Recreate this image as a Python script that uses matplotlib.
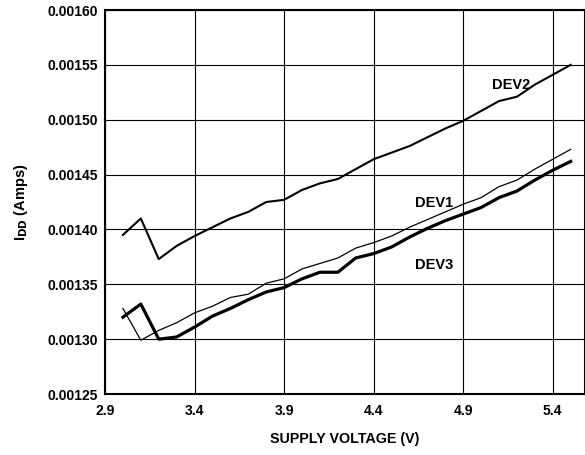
import matplotlib
matplotlib.use('Agg')
import matplotlib.pyplot as plt

plt.rcParams['font.family'] = ['Liberation Sans', 'DejaVu Sans']
plt.rcParams['font.weight'] = 'bold'

# supply voltage (V)
volts = [3.0, 3.1, 3.2, 3.3, 3.4, 3.5, 3.6, 3.7, 3.8, 3.9, 4.0, 4.1, 4.2,
         4.3, 4.4, 4.5, 4.6, 4.7, 4.8, 4.9, 5.0, 5.1, 5.2, 5.3, 5.4, 5.5]

# supply current (A) per device
dev1 = [0.001328, 0.001299, 0.001308, 0.001315, 0.001324, 0.001330, 0.001338,
        0.001341, 0.001351, 0.001355, 0.001364, 0.001369, 0.001374, 0.001383,
        0.001388, 0.001394, 0.001402, 0.001409, 0.001416, 0.001423, 0.001429,
        0.001439, 0.001445, 0.001455, 0.001464, 0.001473]
dev2 = [0.001395, 0.001410, 0.001373, 0.001385, 0.001394, 0.001402, 0.001410,
        0.001416, 0.001425, 0.001427, 0.001436, 0.001442, 0.001446, 0.001455,
        0.001464, 0.001470, 0.001476, 0.001484, 0.001492, 0.001499, 0.001508,
        0.001517, 0.001521, 0.001532, 0.001541, 0.001550]
dev3 = [0.001320, 0.001332, 0.001300, 0.001302, 0.001311, 0.001321, 0.001328,
        0.001336, 0.001343, 0.001347, 0.001355, 0.001361, 0.001361, 0.001374,
        0.001378, 0.001384, 0.001393, 0.001401, 0.001408, 0.001414, 0.001420,
        0.001429, 0.001435, 0.001445, 0.001454, 0.001462]

xticks = [2.9, 3.4, 3.9, 4.4, 4.9, 5.4]
yticks = [0.00125, 0.00130, 0.00135, 0.00140, 0.00145, 0.00150, 0.00155, 0.00160]

fig = plt.figure(figsize=(5.85, 4.55), dpi=100)
ax = fig.add_axes([0.1795, 0.134, 0.8205, 0.844])

ax.plot(volts, dev2, color='black', lw=1.5)
ax.plot(volts, dev1, color='black', lw=0.9)
ax.plot(volts, dev3, color='black', lw=2.3)

ax.text(5.06, 0.001532, 'DEV2', fontsize=10.5, fontweight='bold', va='center')
ax.text(4.63, 0.001424, 'DEV1', fontsize=10.5, fontweight='bold', va='center')
ax.text(4.63, 0.001368, 'DEV3', fontsize=10.5, fontweight='bold', va='center')

ax.set_xlim(2.9, 5.58)
ax.set_ylim(0.00125, 0.00160)
ax.set_xticks(xticks)
ax.set_xticklabels([f'{v:.1f}' for v in xticks])
ax.set_yticks(yticks)
ax.set_yticklabels([f'{v:.5f}' for v in yticks])
ax.tick_params(length=0, labelsize=10)
ax.tick_params(axis='x', pad=7)
ax.tick_params(axis='y', pad=5)
ax.grid(True, color='black', lw=0.8)
ax.set_axisbelow(True)
for s in ax.spines.values():
    s.set_linewidth(1.5)

ax.set_xlabel('SUPPLY VOLTAGE (V)', fontsize=10.3, fontweight='bold', labelpad=10)
ax.set_ylabel(r'I$_{\mathbf{DD}}$ (Amps)', fontsize=10.5, fontweight='bold', labelpad=13)

fig.savefig('out.png', dpi=100)
